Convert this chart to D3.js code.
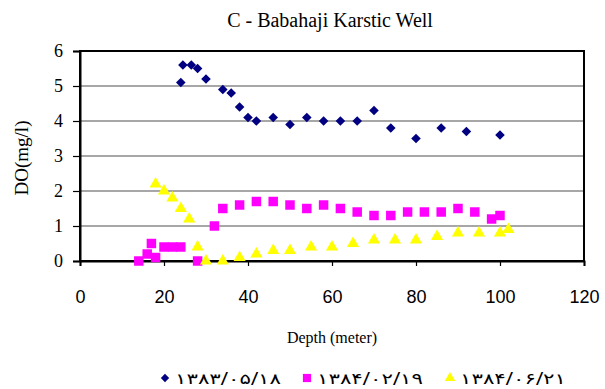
<!DOCTYPE html>
<html>
<head>
<meta charset="utf-8">
<script src="https://cdn.jsdelivr.net/npm/d3@7"></script>
<style>
  html, body { margin: 0; padding: 0; background: #fff; }
  svg { display: block; }
  .serif { font-family: "Liberation Serif", "Times New Roman", "DejaVu Serif", serif; }
  .sans { font-family: "Liberation Sans", Arial, sans-serif; }
</style>
</head>
<body>
<svg id="chart" width="605" height="389"></svg>
<script>
// Dissolved oxygen profiles with depth, three sampling dates
const seriesNames = ["۱۳۸۳/۰۵/۱۸", "۱۳۸۴/۰۲/۱۹", "۱۳۸۴/۰۶/۲۱"];

const depth1 = [24, 24.5, 26.5, 28, 30, 34, 36, 38, 40, 42, 46, 50, 54, 58, 62, 66, 70, 74, 80, 86, 92, 100];
const do1    = [5.1, 5.6, 5.6, 5.5, 5.2, 4.9, 4.8, 4.4, 4.1, 4.0, 4.1, 3.9, 4.1, 4.0, 4.0, 4.0, 4.3, 3.8, 3.5, 3.8, 3.7, 3.6];

const depth2 = [14, 16, 17, 18, 20, 22, 24, 28, 32, 34, 38, 42, 46, 50, 54, 58, 62, 66, 70, 74, 78, 82, 86, 90, 94, 98, 100];
const do2    = [0, 0.2, 0.5, 0.1, 0.4, 0.4, 0.4, 0, 1.0, 1.5, 1.6, 1.7, 1.7, 1.6, 1.5, 1.6, 1.5, 1.4, 1.3, 1.3, 1.4, 1.4, 1.4, 1.5, 1.4, 1.2, 1.3];

const depth3 = [18, 20, 22, 24, 26, 28, 30, 34, 38, 42, 46, 50, 55, 60, 65, 70, 75, 80, 85, 90, 95, 100, 102];
const do3    = [2.2, 2.0, 1.8, 1.5, 1.2, 0.4, 0, 0, 0.1, 0.2, 0.3, 0.3, 0.4, 0.4, 0.5, 0.6, 0.6, 0.6, 0.7, 0.8, 0.8, 0.8, 0.9];

const xTicks = [0, 20, 40, 60, 80, 100, 120];
const yTicks = [0, 1, 2, 3, 4, 5, 6];

const titleText = "C - Babahaji Karstic Well";
const xTitle = "Depth (meter)";
const yTitle = "DO(mg/l)";

const colors = ["#000080", "#ff00ff", "#ffff00"];
const shapes = [d3.symbolSquare, d3.symbolSquare, d3.symbolTriangle];
const rotations = [45, 0, 0];
const symbolSizes = [46, 90, 64];

const svg = d3.select("#chart");
const plot = { left: 80, right: 584, top: 51, bottom: 261 };

const x = d3.scaleLinear().domain([0, 120]).range([plot.left, plot.right]);
const y = d3.scaleLinear().domain([0, 6]).range([plot.bottom, plot.top]);

// Horizontal gridlines
svg.append("g")
  .selectAll("line")
  .data(yTicks.filter(t => t > 0 && t < 6))
  .join("line")
  .attr("x1", plot.left).attr("x2", plot.right)
  .attr("y1", d => y(d)).attr("y2", d => y(d))
  .attr("stroke", "#8a8a8a").attr("stroke-width", 1.5);

// Plot-area border
svg.append("rect")
  .attr("x", plot.left).attr("y", plot.top)
  .attr("width", plot.right - plot.left).attr("height", plot.bottom - plot.top)
  .attr("fill", "none").attr("stroke", "#000").attr("stroke-width", 2);

// Axes
const xAxis = d3.axisBottom(x).tickValues(xTicks).tickSize(5).tickPadding(24);
const gx = svg.append("g").attr("transform", `translate(0,${plot.bottom})`).call(xAxis);
gx.attr("font-family", null);
gx.select(".domain").attr("stroke", "#000").attr("stroke-width", 2);
gx.selectAll(".tick line").attr("stroke", "#000").attr("stroke-width", 1.2);
gx.selectAll(".tick text")
  .attr("class", "sans")
  .attr("font-size", 18).attr("fill", "#000");

const yAxis = d3.axisLeft(y).tickValues(yTicks).tickFormat(d3.format("d")).tickSize(7).tickPadding(10);
const gy = svg.append("g").attr("transform", `translate(${plot.left},0)`).call(yAxis);
gy.attr("font-family", null);
gy.select(".domain").attr("stroke", "#000").attr("stroke-width", 2);
gy.selectAll(".tick line").attr("stroke", "#000").attr("stroke-width", 1.2);
gy.selectAll(".tick text")
  .attr("class", "serif")
  .attr("font-size", 18).attr("fill", "#000");

// Data series
const series = [
  { xs: depth1, ys: do1 },
  { xs: depth2, ys: do2 },
  { xs: depth3, ys: do3 }
];
series.forEach((s, i) => {
  const pts = s.xs.map((d, j) => [d, s.ys[j]]);
  svg.append("g")
    .selectAll("path")
    .data(pts)
    .join("path")
    .attr("d", d3.symbol().type(shapes[i]).size(symbolSizes[i]))
    .attr("transform", d => `translate(${x(d[0])},${y(d[1])}) rotate(${rotations[i]})`)
    .attr("fill", colors[i]);
});

// Titles
svg.append("text")
  .attr("class", "serif")
  .attr("x", 330).attr("y", 27)
  .attr("text-anchor", "middle")
  .attr("font-size", 20).attr("fill", "#000")
  .text(titleText);

svg.append("text")
  .attr("class", "serif")
  .attr("x", 332).attr("y", 343)
  .attr("text-anchor", "middle")
  .attr("font-size", 16).attr("fill", "#000")
  .text(xTitle);

svg.append("text")
  .attr("class", "serif")
  .attr("transform", "translate(28,158) rotate(-90)")
  .attr("text-anchor", "middle")
  .attr("font-size", 19).attr("fill", "#000")
  .text(yTitle);

// Legend
const legendX = [165, 307, 450];
const legend = svg.append("g");
seriesNames.forEach((name, i) => {
  legend.append("path")
    .attr("d", d3.symbol().type(shapes[i]).size(symbolSizes[i] * 0.75))
    .attr("transform", `translate(${legendX[i]},378) rotate(${rotations[i]})`)
    .attr("fill", colors[i]);
  legend.append("text")
    .attr("x", legendX[i] + 10).attr("y", 384)
    .attr("direction", "ltr")
    .attr("font-family", "DejaVu Sans, sans-serif")
    .attr("font-size", 15).attr("fill", "#000")
    .attr("textLength", 106).attr("lengthAdjust", "spacingAndGlyphs")
    .text(name);
});
</script>
</body>
</html>
